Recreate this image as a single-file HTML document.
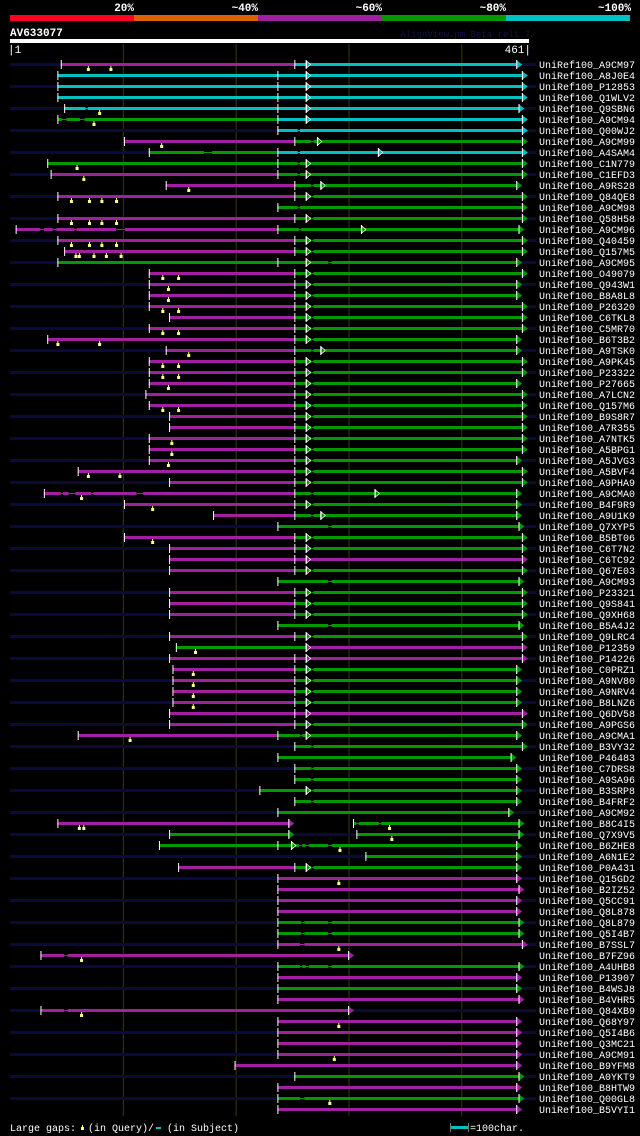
<!DOCTYPE html>
<html><head><meta charset="utf-8">
<style>
html,body{margin:0;padding:0;background:#000;width:640px;height:1136px;overflow:hidden}
svg{display:block}
text{font-family:"Liberation Mono",monospace}
</style></head>
<body>
<svg id="chart" width="640" height="1136" viewBox="0 0 640 1136" xmlns="http://www.w3.org/2000/svg">
<g>
<rect x="10" y="15" width="124" height="6" fill="#ff0020"/>
<rect x="134" y="15" width="124" height="6" fill="#e06000"/>
<rect x="258" y="15" width="124" height="6" fill="#a020a0"/>
<rect x="382" y="15" width="124" height="6" fill="#009900"/>
<rect x="506" y="15" width="124" height="6" fill="#00c0c0"/>
<g font-size="11" font-weight="bold" fill="#fff" text-anchor="end">
<text x="134" y="11">20%</text>
<text x="258" y="11">~40%</text>
<text x="382" y="11">~60%</text>
<text x="506" y="11">~80%</text>
<text x="631" y="11">~100%</text>
</g>
</g>
<text x="10" y="36" font-size="11" font-weight="bold" fill="#fff">AV633077</text>
<text x="530" y="37" font-size="9" fill="#141448" text-anchor="end">AlignView.pm Beta rel1.7</text>
<rect x="10" y="39" width="519" height="4" fill="#fff"/>
<text x="8" y="53" font-size="11" fill="#fff">|1</text>
<text x="531" y="53" font-size="11" fill="#fff" text-anchor="end">461|</text>
<g id="grid"></g>
<g id="rows"></g>
<g>
<text x="10" y="1131" font-size="10" fill="#fff">Large gaps:</text>
<rect x="81" y="1127" width="3" height="3" fill="#ffff80"/>
<rect x="82" y="1125" width="1" height="2" fill="#ffff80"/>
<text x="88" y="1131" font-size="10" fill="#fff">(in Query)/</text>
<rect x="156" y="1127" width="5" height="2" fill="#00c0c0"/>
<text x="167" y="1131" font-size="10" fill="#fff">(in Subject)</text>
<rect x="450" y="1123" width="1" height="9" fill="#777"/>
<rect x="451" y="1126" width="17" height="3" fill="#00c0c0"/>
<rect x="468" y="1123" width="1" height="9" fill="#777"/>
<text x="470" y="1131" font-size="10" fill="#fff">=100char.</text>
</g>
</svg>
<script>
const names=["A9CM97","A8J0E4","P12853","Q1WLV2","Q9SBN6","A9CM94","Q00WJ2","A9CM99","A4SAM4","C1N779","C1EFD3","A9RS28","Q84QE8","A9CM98","Q58H58","A9CM96","Q40459","Q157M5","A9CM95","O49079","Q943W1","B8A8L8","P26320","C6TKL8","C5MR70","B6T3B2","A9TSK0","A9PK45","P23322","P27665","A7LCN2","Q157M6","B9S8R7","A7R355","A7NTK5","A5BPG1","A5JVG3","A5BVF4","A9PHA9","A9CMA0","B4F9R9","A9U1K9","Q7XYP5","B5BT06","C6T7N2","C6TC92","Q67E03","A9CM93","P23321","Q9S841","Q9XH68","B5A4J2","Q9LRC4","P12359","P14226","C0PRZ1","A9NV80","A9NRV4","B8LNZ6","Q6DV58","A9PGS6","A9CMA1","B3VY32","P46483","C7DRS8","A9SA96","B3SRP8","B4FRF2","A9CM92","B8C4I5","Q7X9V5","B6ZHE8","A6N1E2","P0A431","Q15GD2","B2IZ52","Q5CC91","Q8L878","Q8L879","Q5I4B7","B7SSL7","B7FZ96","A4UHB8","P13907","B4WSJ8","B4VHR5","Q84XB9","Q68Y97","Q5I4B6","Q3MC21","A9CM91","B9YFM8","A0YKT9","B8HTW9","Q00GL8","B5VYI1"];
const starts=[46,43,43,43,49,43,238,102,124,34,37,139,43,238,43,6,43,49,43,124,124,124,124,142,124,34,139,124,124,124,121,124,142,142,124,124,124,61,142,31,102,181,238,102,142,142,142,238,142,142,142,238,142,148,142,145,145,145,145,142,142,61,253,238,253,253,222,253,238,43,142,133,316,150,238,238,238,238,238,238,238,28,238,238,238,238,28,238,238,238,238,200,253,238,238,238];
const splits=[253,238,238,238,238,238,null,253,238,238,238,253,253,null,253,238,253,253,238,253,253,253,253,253,253,253,253,253,253,253,253,253,253,253,253,253,253,253,253,253,253,253,null,253,253,253,253,null,253,253,253,null,253,263,253,253,253,253,253,253,253,238,null,null,null,null,null,null,null,null,null,238,null,253,null,null,null,null,null,null,null,null,null,null,null,null,null,null,null,null,null,null,null,null,null,null];
const ends=[455,460,460,460,457,460,460,460,460,460,460,455,460,460,460,457,460,460,455,460,455,455,460,460,460,455,455,460,460,455,460,460,460,460,460,460,455,460,460,455,455,455,457,460,460,460,460,457,460,460,460,457,460,460,460,455,455,455,455,460,460,455,460,450,455,455,455,455,448,253,253,455,455,455,455,457,455,455,457,457,460,306,457,455,455,457,306,455,455,455,455,455,457,455,457,455];
const leftColors=("MCCCCGCMGG"+"MMMGMMMMGM"+"MMMMMMMMMM"+"MMMMMMMMMM"+"MMGMMMMGMM"+"MGMGMMMMMM"+"MMGGGGGGGM"+"GGGMMMMMGG"+"MMGMGMMMMM"+"MMGMGM").split("");
const rightColors=("CCCCCCCGCG"+"GGGGGGGGGG"+"GGGGGGGGGG"+"GGGGGGGGGG"+"GGGGGMGGGG"+"GGGMMGGGGM"+"GGGGGGGGGM"+"GGGGMMMMGG"+"MMGMGMMMMM"+"MMGMGM").split("");
const markers=[263,263,263,263,263,263,null,273,327,263,263,276,263,null,263,312,263,263,263,263,263,263,263,263,263,263,276,263,263,263,263,263,263,263,263,263,263,263,263,324,263,276,null,263,263,263,263,null,263,263,263,null,263,263,263,263,263,263,263,263,263,263,null,null,null,null,263,null,null,null,null,250,null,263,null,null,null,null,null,null,null,null,null,null,null,null,null,null,null,null,null,null,null,null,null,null];
const queryGaps=[[70,90],[],[],[],[80],[75],[],[135],[],[60],[66],[159],[55,71,82,95],[],[55,71,82,95],[],[55,71,82,95],[59,62,75,86,99],[],[136,150],[141],[141],[136,150],[],[136,150],[43,80],[159],[136,150],[136,150],[141],[],[136,150],[],[],[144],[144],[141],[70,98],[],[64],[127],[],[],[127],[],[],[],[],[],[],[],[],[],[165],[],[163],[163],[163],[163],[],[],[107],[],[],[],[],[],[],[],[62,66,337],[339],[293],[],[],[292],[],[],[],[],[],[292],[64],[],[],[],[],[64],[292],[],[],[288],[],[],[],[284],[]];
const subjectGaps=[[],[],[],[],[[68,70]],[[47,51],[63,67]],[[256,258]],[[268,270]],[[173,180],[256,258]],[[256,258]],[[256,258]],[[268,270]],[[268,270]],[[256,258]],[[268,270]],[[28,31],[39,42],[58,60],[95,103],[257,259]],[[268,270]],[[268,270]],[[283,286]],[[268,270]],[[268,270]],[[268,270]],[[268,270]],[[268,270]],[[268,270]],[[268,270]],[[268,270]],[[268,270]],[[268,270]],[[268,270]],[[268,270]],[[268,270]],[[268,270]],[[268,270]],[[268,270]],[[268,270]],[[268,270]],[[268,270]],[[268,270]],[[46,48],[53,59],[73,75],[113,119],[268,270]],[[268,270]],[[268,270]],[[283,286]],[[268,270]],[[268,270]],[],[[268,270]],[[283,286]],[[268,270]],[[268,270]],[[268,270]],[[283,286]],[[268,270]],[],[],[[268,270]],[[268,270]],[[268,270]],[[268,270]],[],[[268,270]],[[258,260]],[[268,270]],[],[[268,270]],[[268,270]],[[268,270]],[[268,270]],[],[],[],[[257,260],[263,266],[283,286]],[],[[268,270]],[],[],[],[],[[259,262],[283,286]],[[259,262],[283,286]],[[258,262]],[[49,52]],[[258,260],[263,266],[283,286]],[],[],[],[[49,52]],[],[],[],[],[],[],[],[[258,262]],[]];
const secondStarts=new Array(96).fill(null);
secondStarts[69]=305; secondStarts[70]=308;
const secondEnds=new Array(96).fill(null);
secondEnds[69]=457; secondEnds[70]=457;
const secondGaps=new Array(96).fill(null);
secondGaps[69]=[[308,310],[328,330]];

const COLORS={M:"#a020a0",C:"#00c0c0",G:"#009900"};
const NS="http://www.w3.org/2000/svg";
function X(c){return 10+(c-1)*519/460;}
function Y(i){return 64+11*i;}
function mk(tag,attrs,parent){const e=document.createElementNS(NS,tag);for(const k in attrs)e.setAttribute(k,attrs[k]);parent.appendChild(e);return e;}

const grid=document.getElementById("grid");
[101,201,301,401].forEach(function(c){
  const l=mk("line",{x1:X(c)+0.5,x2:X(c)+0.5,y1:44,y2:1116,stroke:"#38380c","stroke-width":1},grid);
  
  
});

const rowsG=document.getElementById("rows");
function drawPiece(g,y,s,e,cl,cr,split,gaps){
  const base=X(e)-6;
  if(split!==null && split<e){
    mk("rect",{x:X(s),y:y-1,width:Math.max(0,X(split)-X(s)),height:3,fill:COLORS[cl]},g);
    mk("rect",{x:X(split),y:y-1,width:Math.max(0,base-X(split)),height:3,fill:COLORS[cr]},g);
  } else {
    mk("rect",{x:X(s),y:y-1,width:Math.max(0,base-X(s)),height:3,fill:COLORS[cl]},g);
  }
  (gaps||[]).forEach(function(gp){
    const col=(split!==null&&gp[0]>=split)?COLORS[cr]:COLORS[cl];
    mk("rect",{x:X(gp[0]),y:y-1,width:X(gp[1])-X(gp[0]),height:3,fill:"#000"},g);
    mk("rect",{x:X(gp[0]),y:y,width:X(gp[1])-X(gp[0]),height:1,fill:col},g);
  });
  const endCol=(split!==null&&split<e)?COLORS[cr]:COLORS[cl];
  const a=mk("polygon",{points:(base)+","+(y-4)+" "+(X(e))+","+(y+0.5)+" "+(base)+","+(y+5),fill:endCol},g);
  
  
  mk("rect",{x:base,y:y-4,width:1,height:9,fill:"#fff"},g);
  const t=mk("rect",{x:X(s),y:y-4,width:1,height:9,fill:"#fff"},g);
  
  
  if(split!==null&&split<e) mk("rect",{x:X(split),y:y-4,width:1,height:9,fill:"#fff"},g);
}
names.forEach(function(n,i){
  const y=Y(i);
  const g=mk("g",{},rowsG);
  
  
  if(i%2===0){
    const bg=mk("rect",{x:10,y:y-1,width:526,height:3,fill:"#0b0b35"},g);
    
    
  }
  drawPiece(g,y,starts[i],ends[i],leftColors[i],rightColors[i],splits[i],subjectGaps[i]);
  if(secondStarts[i]!==null){
    drawPiece(g,y,secondStarts[i],secondEnds[i],"G","G",null,secondGaps[i]);
  }
  if(markers[i]!==null){
    const mx=X(markers[i]);
    const segCol=(splits[i]!==null&&markers[i]>=splits[i])?COLORS[rightColors[i]]:COLORS[leftColors[i]];
    mk("rect",{x:mx,y:y-4,width:1,height:9,fill:"#fff"},g);
    const m=mk("polygon",{points:(mx+1)+","+(y-3)+" "+(mx+5)+","+(y+0.5)+" "+(mx+1)+","+(y+4),fill:segCol,stroke:"#fff","stroke-width":0.7},g);
    
    
  }
  queryGaps[i].forEach(function(q){
    const qx=X(q);
    const m=mk("rect",{x:qx-1,y:y+4,width:3,height:3,fill:"#ffff80"},g);
    
    
    mk("rect",{x:qx,y:y+2,width:1,height:2,fill:"#ffff80"},g);
  });
  const lbl=mk("text",{x:539,y:y+4,"font-size":10,fill:"#fff"},g);
  lbl.textContent="UniRef100_"+n;
  
  
});
</script>
</body></html>
